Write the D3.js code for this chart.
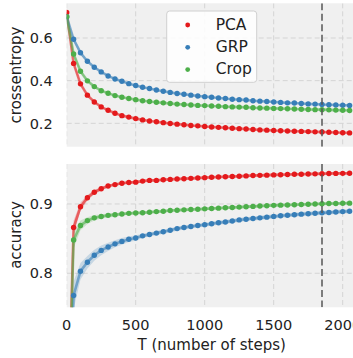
<!DOCTYPE html>
<html>
<head>
<meta charset="utf-8">
<script src="https://cdn.jsdelivr.net/npm/d3@7"></script>
<style>
  body { margin: 0; background: #fff; }
  text { font-family: "DejaVu Sans", sans-serif; fill: #222; }
</style>
</head>
<body>
<svg class="chart"></svg>
<script>
// training steps (x)
var steps = [0, 50, 100, 150, 200, 250, 300, 350, 400, 450, 500, 550, 600, 650, 700, 750, 800, 850, 900, 950,
  1000, 1050, 1100, 1150, 1200, 1250, 1300, 1350, 1400, 1450, 1500, 1550, 1600, 1650, 1700, 1750, 1800, 1850,
  1900, 1950, 2000, 2050];

var methods = ["PCA", "GRP", "Crop"];
var colors = ["#e41a1c", "#377eb8", "#4daf4a"];

// crossentropy per method
var cePCA = [0.720, 0.481, 0.385, 0.332, 0.300, 0.277, 0.261, 0.247, 0.236, 0.229, 0.222, 0.216, 0.211, 0.207,
  0.203, 0.199, 0.196, 0.193, 0.190, 0.188, 0.185, 0.183, 0.181, 0.179, 0.177, 0.175, 0.173, 0.171, 0.169, 0.168,
  0.166, 0.165, 0.164, 0.163, 0.162, 0.161, 0.160, 0.159, 0.158, 0.157, 0.156, 0.155];
var ceGRP = [0.700, 0.594, 0.531, 0.491, 0.463, 0.441, 0.422, 0.408, 0.397, 0.386, 0.377, 0.369, 0.363, 0.356,
  0.350, 0.345, 0.340, 0.336, 0.332, 0.328, 0.325, 0.322, 0.319, 0.316, 0.313, 0.311, 0.309, 0.306, 0.304, 0.302,
  0.300, 0.298, 0.296, 0.295, 0.293, 0.291, 0.290, 0.288, 0.287, 0.286, 0.285, 0.284];
var ceCrop = [0.700, 0.525, 0.444, 0.399, 0.372, 0.353, 0.341, 0.330, 0.322, 0.316, 0.311, 0.306, 0.302, 0.299,
  0.296, 0.293, 0.290, 0.288, 0.286, 0.284, 0.283, 0.281, 0.280, 0.278, 0.277, 0.276, 0.275, 0.273, 0.272, 0.271,
  0.270, 0.269, 0.268, 0.267, 0.266, 0.265, 0.264, 0.264, 0.263, 0.262, 0.261, 0.260];

// accuracy per method
var accPCA = [0.50, 0.866, 0.896, 0.909, 0.917, 0.922, 0.926, 0.928, 0.930, 0.931, 0.9315, 0.933, 0.934, 0.934,
  0.935, 0.9355, 0.936, 0.9365, 0.937, 0.9375, 0.938, 0.9385, 0.939, 0.9393, 0.9397, 0.940, 0.9405, 0.941, 0.9413,
  0.9416, 0.942, 0.9422, 0.9425, 0.9428, 0.943, 0.9432, 0.9435, 0.9437, 0.944, 0.9441, 0.9442, 0.9443];
var accGRP = [0.50, 0.768, 0.803, 0.816, 0.826, 0.833, 0.838, 0.8425, 0.846, 0.849, 0.851, 0.854, 0.856, 0.858,
  0.860, 0.862, 0.8645, 0.866, 0.8675, 0.869, 0.870, 0.8715, 0.873, 0.874, 0.8755, 0.877, 0.878, 0.879, 0.880,
  0.881, 0.882, 0.883, 0.8838, 0.8845, 0.8853, 0.886, 0.8866, 0.8872, 0.8878, 0.8884, 0.889, 0.8895];
var accCrop = [0.50, 0.848, 0.869, 0.876, 0.880, 0.882, 0.8836, 0.8845, 0.8855, 0.8865, 0.887, 0.8874, 0.888,
  0.889, 0.8895, 0.8905, 0.891, 0.8915, 0.892, 0.8925, 0.893, 0.8935, 0.894, 0.8945, 0.895, 0.8955, 0.896, 0.8965,
  0.897, 0.8975, 0.898, 0.8983, 0.8986, 0.899, 0.8993, 0.8996, 0.900, 0.9003, 0.9006, 0.9008, 0.901, 0.9012];

// spread of the shaded bands (first steps; later steps keep the last value)
var ceSdPCA = [0, 0.010, 0.006, 0.004, 0.003, 0.002];
var ceSdGRP = [0, 0.012, 0.008, 0.005, 0.004, 0.003];
var ceSdCrop = [0, 0.010, 0.006, 0.004, 0.003, 0.002];
var accSdPCA = [0, 0.010, 0.006, 0.004, 0.003, 0.003, 0.002];
var accSdGRP = [0, 0.020, 0.012, 0.009, 0.008, 0.007, 0.006, 0.005, 0.005, 0.004, 0.004, 0.003];
var accSdCrop = [0, 0.012, 0.007, 0.005, 0.004, 0.003, 0.003, 0.003, 0.002];

var xTicks = [0, 500, 1000, 1500, 2000];
var ceTicks = [0.2, 0.4, 0.6];
var accTicks = [0.8, 0.9];
var marker = 1850;

var W = 353, H = 358;
var svg = d3.select('.chart').attr('width', W).attr('height', H);

var x = d3.scaleLinear().domain([0, 2100]).range([66.7, 356.5]);

var panels = [
  {label: "crossentropy", top: 3.3, bottom: 146.7, domain: [0.0903, 0.7627], ticks: ceTicks,
    series: [cePCA, ceGRP, ceCrop], sd: [ceSdPCA, ceSdGRP, ceSdCrop], labelY: 75, fmt: d3.format(".1f")},
  {label: "accuracy", top: 164, bottom: 307.3, domain: [0.7509, 0.9577], ticks: accTicks,
    series: [accPCA, accGRP, accCrop], sd: [accSdPCA, accSdGRP, accSdCrop], labelY: 235, fmt: d3.format(".1f")}
];

panels.forEach(function(p, pi) {
  var y = d3.scaleLinear().domain(p.domain).range([p.bottom, p.top]);
  var x0 = x.range()[0], x1 = x.range()[1];

  svg.append('clipPath').attr('id', 'clip' + pi)
    .append('rect').attr('x', x0).attr('y', p.top).attr('width', x1 - x0).attr('height', p.bottom - p.top);

  svg.append('rect')
    .attr('x', x0).attr('y', p.top).attr('width', x1 - x0).attr('height', p.bottom - p.top)
    .attr('fill', '#f0f0f0');

  var g = svg.append('g').attr('clip-path', 'url(#clip' + pi + ')');

  // grid
  g.selectAll('.gx').data(xTicks).enter().append('line')
    .attr('x1', d => x(d)).attr('x2', d => x(d)).attr('y1', p.top).attr('y2', p.bottom)
    .attr('stroke', '#d4d4d4').attr('stroke-width', 1).attr('stroke-dasharray', '5,3');
  g.selectAll('.gy').data(p.ticks).enter().append('line')
    .attr('x1', x0).attr('x2', x1).attr('y1', d => y(d)).attr('y2', d => y(d))
    .attr('stroke', '#d4d4d4').attr('stroke-width', 1).attr('stroke-dasharray', '5,3');

  p.series.forEach(function(vals, si) {
    var sd = p.sd[si];
    var pts = steps.map((t, i) => ({t: t, v: vals[i], s: sd[Math.min(i, sd.length - 1)]}));
    g.append('path').datum(pts)
      .attr('fill', colors[si]).attr('fill-opacity', 0.22)
      .attr('d', d3.area().x(d => x(d.t)).y0(d => y(d.v - d.s)).y1(d => y(d.v + d.s)));
    g.append('path').datum(pts)
      .attr('fill', 'none').attr('stroke', colors[si]).attr('stroke-opacity', 0.6).attr('stroke-width', 2.6)
      .attr('d', d3.line().x(d => x(d.t)).y(d => y(d.v)));
  });
  p.series.forEach(function(vals, si) {
    g.selectAll('.m' + si).data(steps).enter().append('circle')
      .attr('cx', d => x(d)).attr('cy', (d, i) => y(vals[i])).attr('r', 2.7)
      .attr('fill', colors[si]);
  });

  // reference step
  g.append('line')
    .attr('x1', x(marker)).attr('x2', x(marker)).attr('y1', p.top).attr('y2', p.bottom)
    .attr('stroke', '#555').attr('stroke-opacity', 0.75).attr('stroke-width', 2).attr('stroke-dasharray', '7,3.5');

  // y tick labels
  svg.selectAll('.yt' + pi).data(p.ticks).enter().append('text')
    .attr('x', 52.7).attr('y', d => y(d) + 5.2)
    .attr('text-anchor', 'end').attr('font-size', 14.5)
    .text(p.fmt);

  svg.append('text')
    .attr('transform', 'translate(21,' + p.labelY + ') rotate(-90)')
    .attr('text-anchor', 'middle').attr('font-size', 15)
    .text(p.label);

  if (pi === 1) {
    svg.selectAll('.xt').data(xTicks).enter().append('text')
      .attr('x', d => x(d)).attr('y', 329.5)
      .attr('text-anchor', 'middle').attr('font-size', 14.5)
      .text(d => d);
    svg.append('text')
      .attr('x', 211.7).attr('y', 349.5)
      .attr('text-anchor', 'middle').attr('font-size', 15)
      .text("T (number of steps)");
  }
});

// legend
var lg = svg.append('g');
lg.append('rect')
  .attr('x', 166.7).attr('y', 11).attr('width', 90).attr('height', 71.3).attr('rx', 3)
  .attr('fill', '#fff').attr('fill-opacity', 0.85).attr('stroke', '#d0d0d0').attr('stroke-width', 1);
methods.forEach(function(m, i) {
  var cy = 25 + i * 22.3;
  lg.append('circle').attr('cx', 187.7).attr('cy', cy).attr('r', 2.4).attr('fill', colors[i]);
  lg.append('text').attr('x', 215.7).attr('y', cy + 4.8).attr('font-size', 15.5).text(m);
});
</script>
</body>
</html>
